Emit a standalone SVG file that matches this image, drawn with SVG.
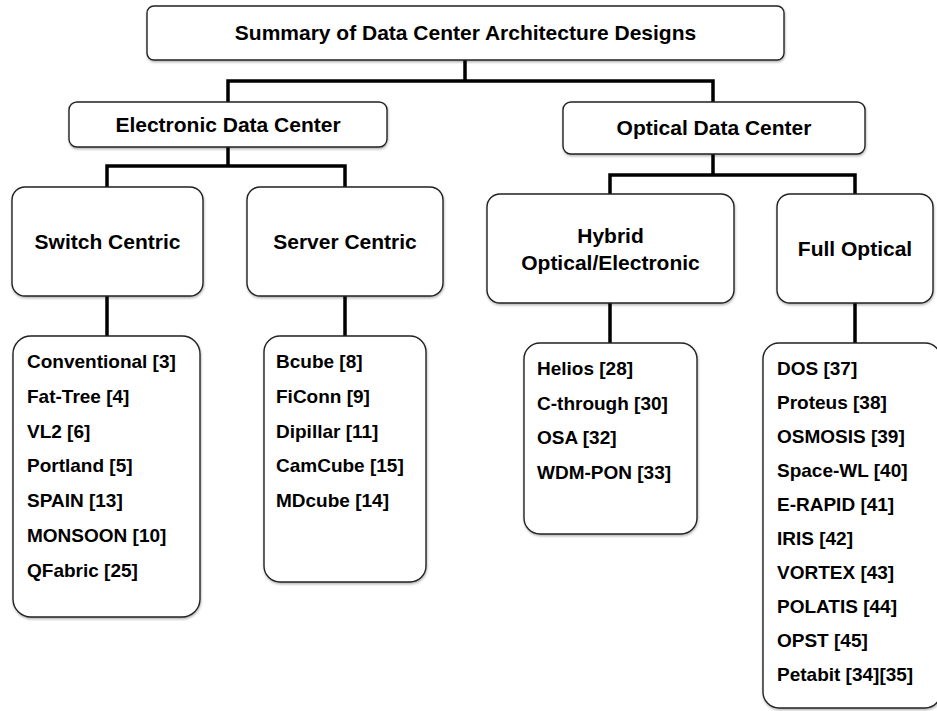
<svg xmlns="http://www.w3.org/2000/svg" width="937" height="711" viewBox="0 0 937 711">
<defs>
<filter id="sh" x="-5%" y="-5%" width="110%" height="115%">
<feDropShadow dx="0.5" dy="1.5" stdDeviation="1" flood-color="#000" flood-opacity="0.3"/>
</filter>
</defs>
<style>
.box{fill:#fff;stroke:#222;stroke-width:1.4;filter:url(#sh)}
.hd{font-family:"Liberation Sans",Arial,sans-serif;font-weight:bold;font-size:21px;fill:#000;text-anchor:middle}
.li{font-family:"Liberation Sans",Arial,sans-serif;font-weight:bold;font-size:19px;fill:#000}
.cn{fill:none;stroke:#000;stroke-width:3.5}
</style>
<rect width="937" height="711" fill="#fff"/>
<g id="connectors">
<path class="cn" d="M465,60V81M228,102V81H713V102"/>
<path class="cn" d="M228,147V166M107,187V166H345V187"/>
<path class="cn" d="M713,154V175M610,194V175H855V194"/>
<path class="cn" d="M107,296V336M345,296V336M610,303V343M855,303V343"/>
</g>
<g id="root">
<rect class="box" x="147" y="6" width="637" height="54" rx="7"/>
<text class="hd" x="465.5" y="40">Summary of Data Center Architecture Designs</text>
</g>
<g id="electronic">
<rect class="box" x="69" y="102" width="318" height="45" rx="8"/>
<text class="hd" x="228" y="132">Electronic Data Center</text>
</g>
<g id="optical">
<rect class="box" x="563" y="102" width="302" height="52" rx="8"/>
<text class="hd" x="714" y="135">Optical Data Center</text>
</g>
<g id="switch">
<rect class="box" x="12" y="187" width="191" height="109" rx="13"/>
<text class="hd" x="107.5" y="249">Switch Centric</text>
</g>
<g id="server">
<rect class="box" x="247" y="187" width="196" height="109" rx="13"/>
<text class="hd" x="345" y="249">Server Centric</text>
</g>
<g id="hybrid">
<rect class="box" x="487" y="194" width="247" height="109" rx="13"/>
<text class="hd" x="610.5" y="243">Hybrid</text>
<text class="hd" x="610.5" y="270">Optical/Electronic</text>
</g>
<g id="fulloptical">
<rect class="box" x="777" y="194" width="156" height="109" rx="13"/>
<text class="hd" x="855" y="256">Full Optical</text>
</g>
<g id="switch-list">
<rect class="box" x="13" y="336" width="187" height="281" rx="18"/>
<text class="li" x="27" y="368">Conventional [3]</text>
<text class="li" x="27" y="403">Fat-Tree [4]</text>
<text class="li" x="27" y="438">VL2 [6]</text>
<text class="li" x="27" y="472">Portland [5]</text>
<text class="li" x="27" y="507">SPAIN [13]</text>
<text class="li" x="27" y="542">MONSOON [10]</text>
<text class="li" x="27" y="577">QFabric [25]</text>
</g>
<g id="server-list">
<rect class="box" x="264" y="336" width="162" height="246" rx="16"/>
<text class="li" x="276" y="368">Bcube [8]</text>
<text class="li" x="276" y="403">FiConn [9]</text>
<text class="li" x="276" y="438">Dipillar [11]</text>
<text class="li" x="276" y="472">CamCube [15]</text>
<text class="li" x="276" y="507">MDcube [14]</text>
</g>
<g id="hybrid-list">
<rect class="box" x="524" y="343" width="173" height="191" rx="16"/>
<text class="li" x="537" y="375">Helios [28]</text>
<text class="li" x="537" y="410">C-through [30]</text>
<text class="li" x="537" y="444">OSA [32]</text>
<text class="li" x="537" y="479">WDM-PON [33]</text>
</g>
<g id="full-list">
<rect class="box" x="763" y="343" width="178" height="365" rx="16"/>
<text class="li" x="777" y="375">DOS [37]</text>
<text class="li" x="777" y="409">Proteus [38]</text>
<text class="li" x="777" y="443">OSMOSIS [39]</text>
<text class="li" x="777" y="477">Space-WL [40]</text>
<text class="li" x="777" y="511">E-RAPID [41]</text>
<text class="li" x="777" y="545">IRIS [42]</text>
<text class="li" x="777" y="579">VORTEX [43]</text>
<text class="li" x="777" y="613">POLATIS [44]</text>
<text class="li" x="777" y="647">OPST [45]</text>
<text class="li" x="777" y="681">Petabit [34][35]</text>
</g>
</svg>
